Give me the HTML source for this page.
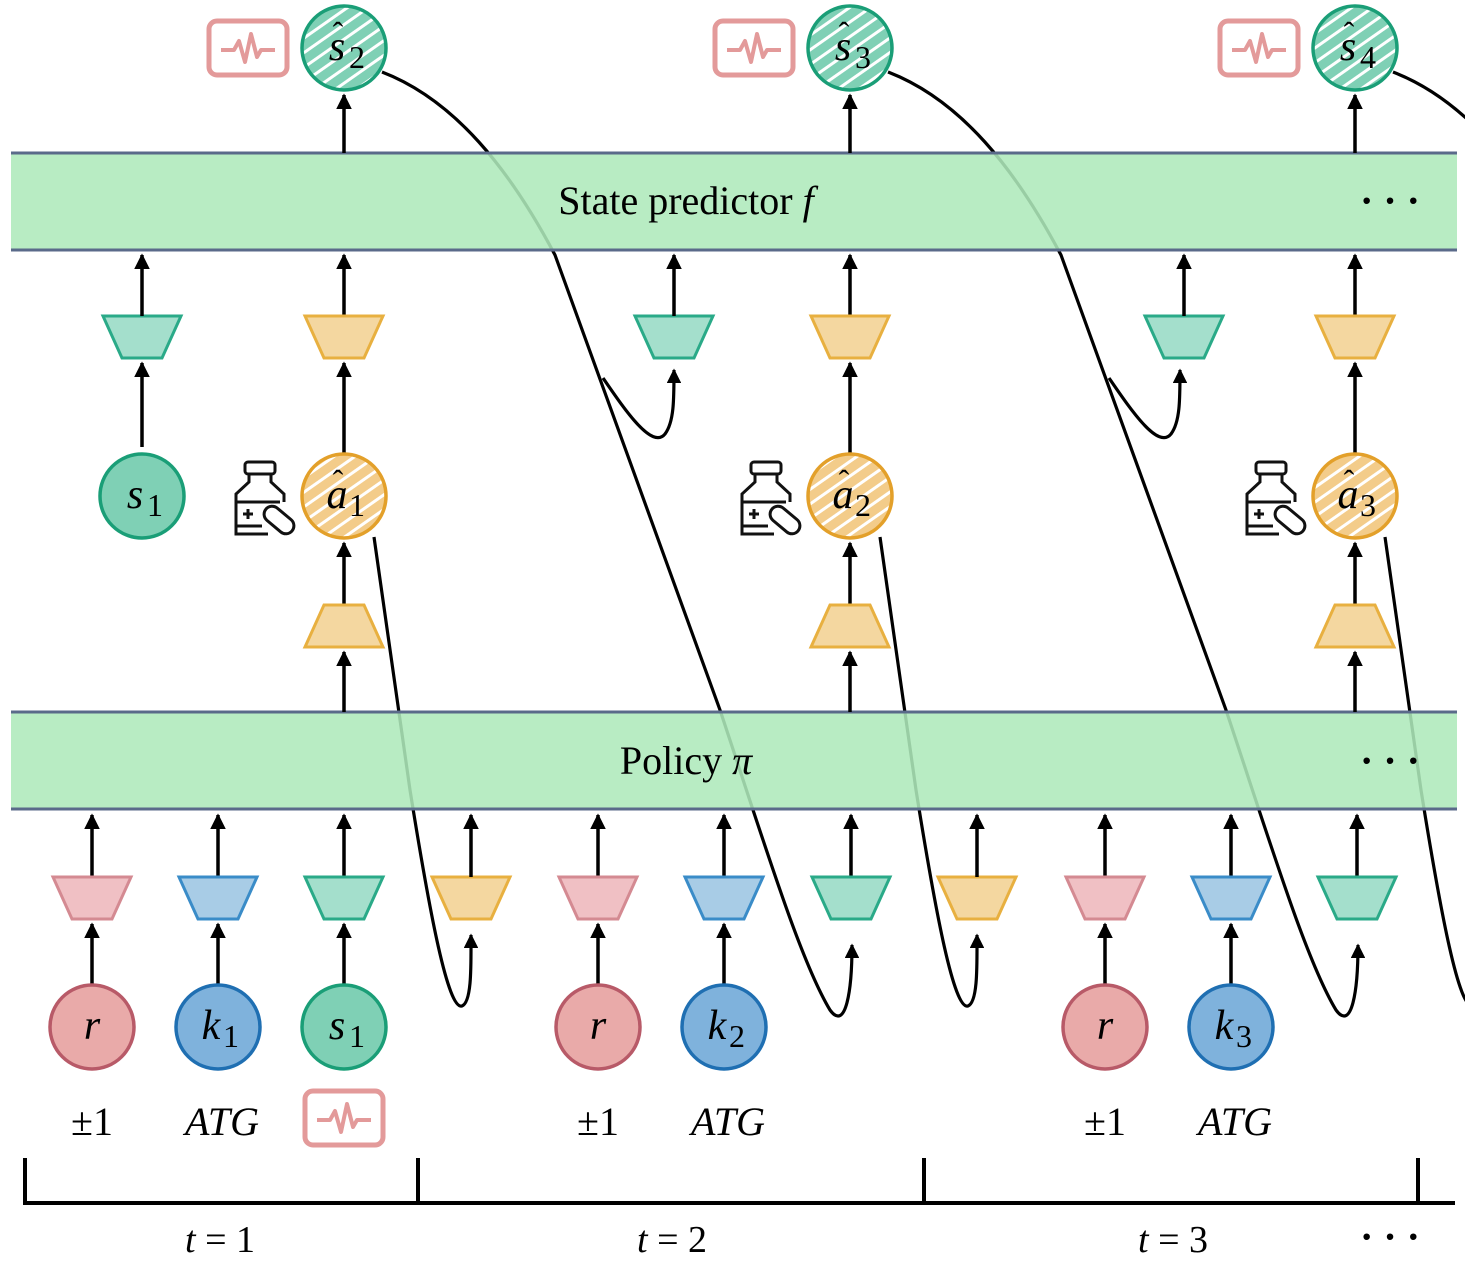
<!DOCTYPE html>
<html><head><meta charset="utf-8"><style>
html,body{margin:0;padding:0;background:#fff;}
svg{display:block;font-family:"Liberation Serif",serif;}
</style></head><body>
<svg id="fig" width="1465" height="1262" viewBox="0 0 1465 1262" xmlns="http://www.w3.org/2000/svg">
<defs>
<pattern id="hatchG" patternUnits="userSpaceOnUse" width="12" height="12" patternTransform="rotate(-35)">
<rect width="12" height="12" fill="#7fd0b5"/><rect width="12" height="3" fill="#fff"/></pattern>
<pattern id="hatchO" patternUnits="userSpaceOnUse" width="12" height="12" patternTransform="rotate(-35)">
<rect width="12" height="12" fill="#f3cc8a"/><rect width="12" height="3" fill="#fff"/></pattern>
<marker id="ah" viewBox="0 0 10 10" refX="9" refY="5" markerWidth="4.5" markerHeight="4.5" orient="auto"><path d="M0,0 L10,5 L0,10 z" fill="#000"/></marker>
</defs>
<g id="curves"></g>
<g id="bands"></g>
<g id="nodes"></g>
</svg>
<script>
const NS="http://www.w3.org/2000/svg";
const steps=[1,2,3];
const offsets=[0,506,1011];
const svg=document.getElementById('fig');
const gC=document.getElementById('curves'),gB=document.getElementById('bands'),gN=document.getElementById('nodes');
function el(tag,attrs,parent){const e=document.createElementNS(NS,tag);for(const k in attrs)e.setAttribute(k,attrs[k]);parent.appendChild(e);return e;}
function arrow(x,y1,y2,name){const a=el('line',{x1:x,y1:y1,x2:x,y2:y2,stroke:'#000','stroke-width':3.5,'marker-end':'url(#ah)'},gN);

}
function trap(x,ytop,inv,fill,stroke,name){const w1=inv?39:20,w2=inv?20:39;
const p=el('polygon',{points:`${x-w1},${ytop} ${x+w1},${ytop} ${x+w2},${ytop+42} ${x-w2},${ytop+42}`,fill:fill,stroke:stroke,'stroke-width':3},gN);

}
function circ(x,y,fill,stroke,label,sub,hat,name){const g=el('g',{},gN);


el('circle',{cx:x,cy:y,r:42,fill:fill,stroke:stroke,'stroke-width':3.5},g);
const t=el('text',{x:x-(sub?7:0),y:y+12,'text-anchor':'middle','font-size':42,'font-style':'italic'},g);t.textContent=label;
if(sub){const s=el('text',{x:x+5,y:y+20,'font-size':32},g);s.textContent=sub;}
if(hat){const h=el('text',{x:x-6,y:y-4,'text-anchor':'middle','font-size':32},g);h.textContent='ˆ';}}
function monitor(x,y,name){const g=el('g',{},gN);


el('rect',{x:x-39,y:y-27,width:78,height:54,rx:8,fill:'none',stroke:'#e39a9a','stroke-width':5},g);
el('polyline',{points:`${x-27},${y+2} ${x-14},${y+2} ${x-9},${y-7} ${x-3},${y+14} ${x+3},${y-14} ${x+9},${y+9} ${x+13},${y+2} ${x+27},${y+2}`,fill:'none',stroke:'#e39a9a','stroke-width':4,'stroke-linejoin':'round'},g);}
function bottle(x,y,name){const g=el('g',{fill:'none',stroke:'#111','stroke-width':3},gN);


el('rect',{x:x-15,y:y-34,width:30,height:12,rx:3},g);
el('path',{d:`M${x-11},${y-22} L${x-11},${y-14} L${x-24},${y-2} L${x-24},${y+38} L${x+8},${y+38} M${x+11},${y-22} L${x+11},${y-14} L${x+24},${y-2} L${x+24},${y+6}`},g);
el('path',{d:`M${x-24},${y+6} L${x+20},${y+6} M${x-24},${y+30} L${x+2},${y+30} M${x-17},${y+18} L${x-7},${y+18} M${x-12},${y+13} L${x-12},${y+23}`},g);
el('rect',{x:x+2,y:y+16,width:34,height:16,rx:8,transform:`rotate(40 ${x+19} ${y+24})`},g);}
function txt(x,y,s,size,italic,name,anchor){const t=el('text',{x:x,y:y,'font-size':size,'text-anchor':anchor||'middle','font-style':italic?'italic':'normal'},gN);t.textContent=s;

return t;}

// curves
steps.forEach((s,i)=>{const o=offsets[i];
const c1=el('path',{d:`M${382+o},72 C${455+o},100 ${510+o},170 ${555+o},255 L${720+o},710 C${765+o},845 ${800+o},960 ${830+o},1010 C${846+o},1032 ${852+o},990 ${852+o},945`,fill:'none',stroke:'#000','stroke-width':3.2,'marker-end':'url(#ah)'},gC);


const c2=el('path',{d:`M${603+o},378 C${625+o},410 ${652+o},450 ${665+o},434 C${674+o},422 ${674+o},400 ${674+o},370`,fill:'none',stroke:'#000','stroke-width':3.2,'marker-end':'url(#ah)'},gC);


const c3=el('path',{d:`M${374+o},537 L${410+o},790 C${430+o},915 ${448+o},1010 ${462+o},1006 C${472+o},1002 ${471+o},965 ${471+o},935`,fill:'none',stroke:'#000','stroke-width':3.2,'marker-end':'url(#ah)'},gC);


});

// bands
[[153,'state-predictor-band','State predictor ',"f",200],[712,'policy-band','Policy ',"π",760]].forEach(b=>{
const r=el('rect',{x:11,y:b[0],width:1446,height:97,fill:'#aee9bb','fill-opacity':0.88},gB);


el('line',{x1:11,y1:b[0],x2:1457,y2:b[0],stroke:'#5a6a8a','stroke-width':3},gB);
el('line',{x1:11,y1:b[0]+97,x2:1457,y2:b[0]+97,stroke:'#5a6a8a','stroke-width':3},gB);
const t=el('text',{x:686,y:b[4]+14,'font-size':40,'text-anchor':'middle'},gB);t.textContent=b[2];
const ti=el('tspan',{'font-style':'italic'},t);ti.textContent=b[3];


const d=el('text',{x:1390,y:b[4]+14,'font-size':40,'text-anchor':'middle','font-weight':'bold'},gB);d.textContent='· · ·';


});

const G=['#a4dfcc','#2aaa88'],O=['#f4d7a0','#e8b040'],P=['#f0c0c4','#d48a92'],B=['#a8cce6','#3a8cc8'];
steps.forEach((s,i)=>{const o=offsets[i];const ob=(s===3)?1013:o;
const ax=344+o,rx=92+ob,kx=218+ob;
// top
arrow(ax,153,95,'arrow-to-s-hat-'+(s+1));
circ(ax,48,'url(#hatchG)','#1a9e77','s',String(s+1),true,'s-hat-node-'+(s+1));
monitor(248+o,48,'monitor-icon-'+s);
// middle
arrow(ax,316,255,'arrow-a-enc-'+s);
trap(ax,316,true,O[0],O[1],'action-encoder-top-'+s);
arrow(ax,453,363,'arrow-a-to-enc-'+s);
circ(ax,496,'url(#hatchO)','#e3a02a','a',String(s),true,'a-hat-node-'+s);
bottle(260+o,496,'medication-icon-'+s);
arrow(ax,605,543,'arrow-dec-to-a-'+s);
trap(ax,605,false,O[0],O[1],'action-decoder-'+s);
arrow(ax,712,652,'arrow-policy-to-dec-'+s);
const gx=(s===1)?142:(s===2?674:1184);
trap(gx,316,true,G[0],G[1],'state-encoder-top-'+s);
arrow(gx,316,255,'arrow-s-enc-'+s);
// bottom
arrow(rx,877,815,'arrow-r-enc-'+s);trap(rx,877,true,P[0],P[1],'reward-encoder-'+s);arrow(rx,984,924,'arrow-r-'+s);
circ(rx,1027,'#e9aaa9','#b85a68','r','',false,'reward-node-'+s);
arrow(kx,877,815,'arrow-k-enc-'+s);trap(kx,877,true,B[0],B[1],'kmer-encoder-'+s);arrow(kx,984,924,'arrow-k-'+s);
circ(kx,1027,'#7fb2dc','#1f6fb2','k',String(s),false,'kmer-node-'+s);
txt(rx,1135,'±1',40,false,'reward-value-'+s);
txt(kx+4,1135,'ATG',40,true,'kmer-value-'+s);
const sx=(s===1)?344:(s===2?851:1357);
arrow(sx,877,815,'arrow-s-enc-bottom-'+s);trap(sx,877,true,G[0],G[1],'state-encoder-bottom-'+s);
if(s===1){arrow(sx,984,924,'arrow-s1-');circ(sx,1027,'#7fd0b5','#1a9e77','s','1',false,'s1-node-bottom');monitor(344,1118,'monitor-icon-bottom');}
if(s<3){trap(471+o,877,true,O[0],O[1],'action-encoder-bottom-'+s);arrow(471+o,877,815,'arrow-a-enc-bottom-'+s);}
});
circ(142,496,'#7fd0b5','#1a9e77','s','1',false,'s1-node-top');
arrow(142,447,363,'arrow-s1-to-enc');

// timeline
const tl=el('path',{d:'M25,1158 L25,1203 L1455,1203 M418,1158 L418,1203 M924,1158 L924,1203 M1418,1158 L1418,1203',fill:'none',stroke:'#000','stroke-width':4},gN);


[[220,'1'],[672,'2'],[1173,'3']].forEach(t=>{const e=el('text',{x:t[0],y:1252,'font-size':38,'text-anchor':'middle'},gN);
const a=el('tspan',{'font-style':'italic'},e);a.textContent='t';const b=el('tspan',{},e);b.textContent=' = '+t[1];

});
txt(1390,1250,'· · ·',40,false,'timeline-ellipsis').setAttribute('font-weight','bold');
</script>
</body></html>
